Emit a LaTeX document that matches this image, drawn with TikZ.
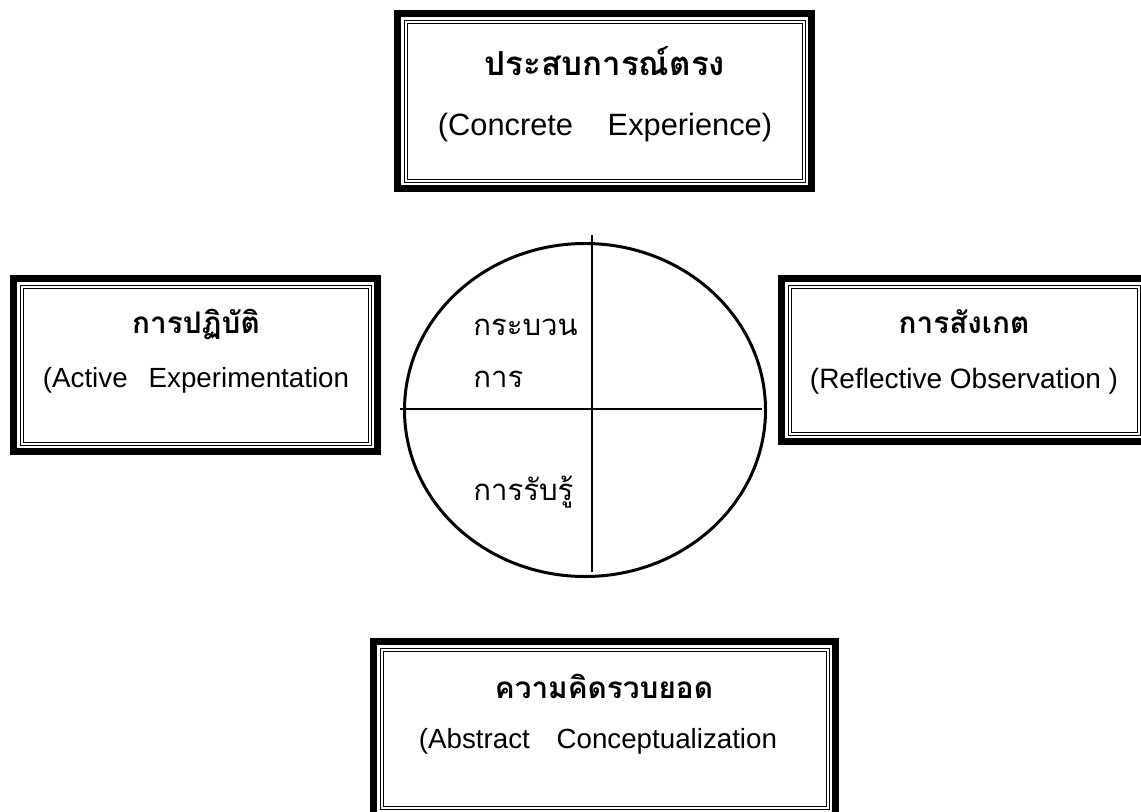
\documentclass[tikz,border=0pt]{standalone}
\usepackage{fontspec}
\setmainfont{Liberation Sans}
\newfontfamily\thaifont[Script=Thai]{Loma}
\usetikzlibrary{shapes.geometric}
\tikzset{
  outerframe/.style={draw, line width=5.25pt, inner sep=0pt},
  innerframe/.style={draw, double, line width=0.75pt, double distance=1.5pt, inner sep=0pt},
  thaititle/.style={font=\thaifont\bfseries\fontsize{#1}{28}\selectfont, anchor=base, inner sep=0pt},
  thaititle/.default=22.3,
  engline/.style={font=\fontsize{#1}{28}\selectfont, anchor=base, inner sep=0pt},
  engline/.default=20.8,
  thaicycle/.style={font=\thaifont\fontsize{22}{28}\selectfont, anchor=base west, inner sep=0pt},
  crossline/.style={line width=1.2pt}
}
\begin{document}
\begin{tikzpicture}[x=0.75pt,y=-0.75pt]
            \useasboundingbox (0,0) rectangle (1141,811);
            \clip (0,0) rectangle (1141,811);

            \node[outerframe, minimum width=310.5pt, minimum height=131.25pt] (CE) at (604.5,101) {};
            \node[innerframe, minimum width=298.5pt, minimum height=119.25pt] (CEin) at (CE) {};
            \node[outerframe, minimum width=273pt, minimum height=129.75pt] (AE) at (195.5,365) {};
            \node[innerframe, minimum width=261pt, minimum height=117.75pt] (AEin) at (AE) {};
            \node[outerframe, minimum width=273.75pt, minimum height=122.25pt] (RO) at (964,360) {};
            \node[innerframe, minimum width=261.75pt, minimum height=110.25pt] (ROin) at (RO) {};
            \node[outerframe, minimum width=346.5pt, minimum height=130.5pt] (AC) at (604.5,728.5) {};
            \node[innerframe, minimum width=334.5pt, minimum height=118.5pt] (ACin) at (AC) {};

            \node[thaititle=24.8] (CEth) at (605,75) {ประสบการณ์ตรง};
            \node[engline=23.1] (CEen) at (605,135) {(Concrete\hspace{26pt}Experience)};
            \node[thaititle] (AEth) at (196,333) {การปฏิบัติ};
            \node[engline] (AEen) at (196,387) {(Active\hspace{15.75pt}Experimentation};
            \node[thaititle] (ROth) at (964,333) {การสังเกต};
            \node[engline=21] (ROen) at (964,388) {(Reflective Observation )};
            \node[thaititle] (ACth) at (604,698) {ความคิดรวบยอด};
            \node[engline] (ACen) at (598,748) {(Abstract\hspace{20pt}Conceptualization};

            \node[draw, ellipse, line width=2.25pt, minimum width=270.75pt, minimum height=249.75pt] (cyc) at (585,410) {};
            \coordinate (cyw) at (400,409);
            \coordinate (cye) at (762,409);
            \coordinate (cyn) at (592,235);
            \coordinate (cys) at (592,572);
            \draw[crossline] (cyw) -- (cye);
            \draw[crossline] (cyn) -- (cys);

            \node[thaicycle] (pr1) at (473,335) {กระบวน};
            \node[thaicycle] (pr2) at (473,387) {การ};
            \node[thaicycle] (pc) at (473,500) {การรับรู้};
        \end{tikzpicture}
\end{document}
